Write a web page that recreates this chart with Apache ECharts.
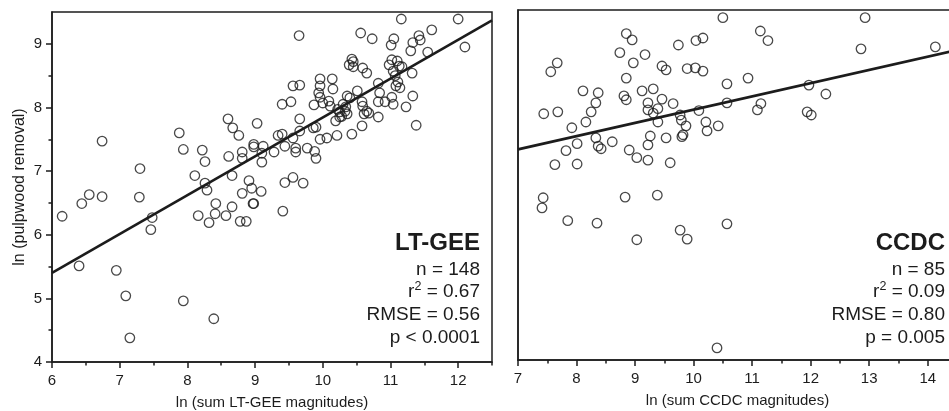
<!DOCTYPE html>
<html><head><meta charset="utf-8">
<script src="https://cdn.jsdelivr.net/npm/echarts@6/dist/echarts.min.js"></script>
<style>html,body{margin:0;padding:0;background:#fff}#c{width:949px;height:411px}</style>
</head><body><div id="c"></div>
<script>
// ---- data ----
const ltX = [6.74,6.55,6.44,6.74,7.30,7.29,7.88,7.94,8.22,8.26,8.11,8.26,8.29,8.42,8.60,8.67,8.76,8.61,8.81,8.81,8.66,8.81,8.66,8.91,
  6.15,7.48,7.46,6.40,6.95,7.09,7.15,7.94,8.39,8.16,8.32,8.41,8.57,8.78,8.87,8.97,9.41,
  9.03,9.40,9.53,9.66,9.87,10.00,10.09,9.94,9.96,9.56,9.66,
  9.34,9.40,9.56,9.66,9.86,9.90,9.96,10.06,
  8.98,8.98,9.12,9.10,9.10,9.28,9.44,9.60,9.60,9.77,9.88,9.90,
  8.95,9.09,8.98,9.44,9.56,9.71,
  9.65,10.56,10.73,11.16,12.00,11.61,11.42,11.44,11.33,11.30,11.55,12.10,11.05,11.01,
  10.43,10.39,10.45,10.45,10.59,10.65,11.02,10.98,11.10,11.13,11.04,11.07,11.17,11.32,10.82,11.08,11.14,11.11,
  9.96,9.96,10.14,10.15,10.11,10.51,10.36,10.40,10.30,10.34,10.33,10.25,10.28,10.36,10.22,
  10.58,10.59,10.65,10.68,10.61,10.84,10.82,10.92,11.02,11.04,11.33,11.23,10.82,11.38,10.58,10.43,10.21,10.19,10.25];
const ltY = [7.47,6.63,6.49,6.60,7.04,6.59,7.60,7.34,7.33,7.15,6.93,6.81,6.70,6.49,7.82,7.68,7.56,7.23,7.30,7.20,6.93,6.65,6.44,6.85,
  6.29,6.27,6.08,5.51,5.44,5.04,4.38,4.96,4.68,6.30,6.19,6.33,6.30,6.21,6.21,6.49,6.37,
  7.75,8.05,8.09,7.82,8.04,8.07,8.10,8.23,8.16,8.34,8.35,
  7.56,7.58,7.52,7.63,7.68,7.69,7.50,7.52,
  7.42,7.38,7.39,7.28,7.14,7.30,7.39,7.36,7.30,7.36,7.31,7.20,
  6.73,6.68,6.49,6.82,6.90,6.81,
  9.13,9.17,9.08,9.39,9.39,9.22,9.13,9.06,9.02,8.89,8.87,8.95,9.08,8.98,
  8.76,8.67,8.64,8.72,8.62,8.54,8.75,8.67,8.73,8.65,8.57,8.50,8.64,8.54,8.38,8.34,8.31,8.40,
  8.45,8.34,8.45,8.29,8.02,8.26,8.18,8.15,8.05,8.01,7.94,7.93,7.86,7.90,7.97,
  8.09,8.02,7.94,7.91,7.90,8.23,8.09,8.09,8.16,8.05,8.18,8.01,7.85,7.72,7.71,7.58,7.56,7.79,7.85];
const ccX = [8.85,8.95,8.74,8.97,9.17,9.74,10.04,10.16,9.46,9.53,9.89,10.03,10.16,
  7.67,7.56,8.85,8.11,8.37,8.81,8.85,9.12,9.31,9.46,9.22,9.22,9.31,9.39,9.39,9.65,9.77,9.79,10.09,10.21,10.23,9.87,9.82,9.80,10.42,
  8.33,8.25,7.44,7.68,7.92,8.16,8.33,8.01,8.37,8.42,8.61,7.82,7.63,8.01,8.90,9.03,9.22,9.26,9.22,9.53,9.60,
  7.43,7.41,8.83,9.38,
  10.50,11.14,11.27,12.93,12.86,14.13,10.93,10.57,11.97,12.26,10.57,11.15,11.09,11.94,12.01,
  7.85,8.35,9.03,9.77,9.89,10.40,10.57];
const ccY = [9.13,9.03,8.83,8.67,8.80,8.95,9.02,9.06,8.62,8.56,8.58,8.59,8.54,
  8.67,8.53,8.43,8.23,8.20,8.15,8.09,8.23,8.26,8.10,8.04,7.93,7.88,7.95,7.74,8.03,7.85,7.77,7.92,7.74,7.60,7.68,7.54,7.51,7.68,
  8.04,7.90,7.87,7.90,7.65,7.74,7.49,7.40,7.36,7.32,7.43,7.29,7.07,7.08,7.30,7.18,7.14,7.52,7.38,7.49,7.10,
  6.55,6.39,6.56,6.59,
  9.38,9.17,9.02,9.38,8.89,8.92,8.43,8.34,8.32,8.18,8.04,8.03,7.93,7.90,7.85,
  6.19,6.15,5.89,6.04,5.90,4.19,6.14];
const ltFit = [[6, 5.40], [12.5, 9.37]];
const ccFit = [[7, 7.31], [14.5, 8.87]];
const ltXTicks = [6,7,8,9,10,11,12];
const ltXMinor = [6.5,7.5,8.5,9.5,10.5,11.5,12.5];
const ccXTicks = [7,8,9,10,11,12,13,14];
const ccXMinor = [7.5,8.5,9.5,10.5,11.5,12.5,13.5,14.5];
const yTicks = [4,5,6,7,8,9];
const yMinor = [4.5,5.5,6.5,7.5,8.5];
const ltStats = ['LT-GEE', 'n = 148', '0.67', 'RMSE = 0.56', 'p < 0.0001'];
const ccStats = ['CCDC', 'n = 85', '0.09', 'RMSE = 0.80', 'p = 0.005'];

// ---- chart ----
const FONT = '"Liberation Sans", Arial, Helvetica, sans-serif';
const INK = '#1c1c1c';
const chart = echarts.init(document.getElementById('c'), null, {renderer: 'canvas'});
const zip = (a, b) => a.map((v, i) => [v, b[i]]);

function mainX(grid, min, max, ticks, name) {
  return {type: 'value', gridIndex: grid, min, max, position: 'bottom', offset: 0,
    axisLine: {show: true, onZero: false, lineStyle: {color: INK, width: 1.5}},
    axisTick: {show: true, length: 6, customValues: ticks, lineStyle: {color: INK, width: 1.5}},
    axisLabel: {show: true, customValues: ticks, margin: 11, fontSize: 15, color: INK, fontFamily: FONT},
    splitLine: {show: false},
    name, nameLocation: 'middle', nameGap: 33,
    nameTextStyle: {fontSize: 15, color: INK, fontFamily: FONT}};
}
function minorX(grid, min, max, ticks) {
  return {type: 'value', gridIndex: grid, min, max, position: 'bottom', offset: 0,
    axisLine: {show: false, onZero: false},
    axisTick: {show: true, length: 3.5, customValues: ticks, lineStyle: {color: INK, width: 1.5}},
    axisLabel: {show: false}, splitLine: {show: false}};
}

function statTexts(x, s) {
  const base = {fill: INK, fontFamily: FONT, fontSize: 19, align: 'right', textAlign: 'right', verticalAlign: 'middle', textVerticalAlign: 'middle'};
  return [
    {type: 'text', x, y: 243, style: Object.assign({}, base, {text: s[0], fontSize: 24, fontWeight: 'bold'})},
    {type: 'text', x, y: 270, style: Object.assign({}, base, {text: s[1]})},
    {type: 'text', x, y: 292, style: Object.assign({}, base, {
      text: '{a|r}{s|2}{a| = ' + s[2] + '}',
      rich: {a: {fontSize: 19, fontFamily: FONT, fill: INK, lineHeight: 23},
             s: {fontSize: 12.5, fontFamily: FONT, fill: INK, verticalAlign: 'top', lineHeight: 12}}})},
    {type: 'text', x, y: 315, style: Object.assign({}, base, {text: s[3]})},
    {type: 'text', x, y: 338, style: Object.assign({}, base, {text: s[4]})}
  ];
}

const scatterStyle = {color: 'rgba(0,0,0,0)', borderColor: INK, borderWidth: 1.3};

chart.setOption({
  animation: false,
  backgroundColor: '#fff',
  grid: [
    {left: 52, top: 12, width: 440, height: 350, outerBoundsMode: 'none', containLabel: false, show: true, borderColor: INK, borderWidth: 1.5, backgroundColor: 'transparent'},
    {left: 518, top: 10, width: 439, height: 350, outerBoundsMode: 'none', containLabel: false, show: true, borderColor: INK, borderWidth: 1.5, backgroundColor: 'transparent'}
  ],
  xAxis: [
    mainX(0, 6, 12.5, ltXTicks, 'ln (sum LT-GEE magnitudes)'),
    minorX(0, 6, 12.5, ltXMinor),
    mainX(1, 7, 14.5, ccXTicks, 'ln (sum CCDC magnitudes)'),
    minorX(1, 7, 14.5, ccXMinor)
  ],
  yAxis: [
    {type: 'value', gridIndex: 0, min: 4, max: 9.5, position: 'left', offset: 0,
      axisLine: {show: true, onZero: false, lineStyle: {color: INK, width: 1.5}},
      axisTick: {show: true, length: 6, customValues: yTicks, lineStyle: {color: INK, width: 1.5}},
      axisLabel: {show: true, customValues: yTicks, margin: 10, fontSize: 15, color: INK, fontFamily: FONT},
      splitLine: {show: false},
      name: 'ln (pulpwood removal)', nameLocation: 'middle', nameGap: 24, nameRotate: 90,
      nameTextStyle: {fontSize: 16, color: INK, fontFamily: FONT}},
    {type: 'value', gridIndex: 0, min: 4, max: 9.5, position: 'left', offset: 0,
      axisLine: {show: false, onZero: false},
      axisTick: {show: true, length: 3.5, customValues: yMinor, lineStyle: {color: INK, width: 1.5}},
      axisLabel: {show: false}, splitLine: {show: false}},
    {type: 'value', gridIndex: 1, min: 4, max: 9.5, position: 'left', offset: 0,
      axisLine: {show: true, onZero: false, lineStyle: {color: INK, width: 1.5}},
      axisTick: {show: false}, axisLabel: {show: false}, splitLine: {show: false}}
  ],
  series: [
    {type: 'scatter', xAxisIndex: 0, yAxisIndex: 0, data: zip(ltX, ltY), symbol: 'circle', symbolSize: 9.5, itemStyle: scatterStyle, silent: true},
    {type: 'line', xAxisIndex: 0, yAxisIndex: 0, data: ltFit, symbol: 'none', lineStyle: {color: INK, width: 2.6}, silent: true},
    {type: 'scatter', xAxisIndex: 2, yAxisIndex: 2, data: zip(ccX, ccY), symbol: 'circle', symbolSize: 9.5, itemStyle: scatterStyle, silent: true},
    {type: 'line', xAxisIndex: 2, yAxisIndex: 2, data: ccFit, symbol: 'none', lineStyle: {color: INK, width: 2.6}, silent: true}
  ],
  graphic: [].concat(statTexts(480, ltStats), statTexts(945, ccStats))
});
</script>
</body></html>
